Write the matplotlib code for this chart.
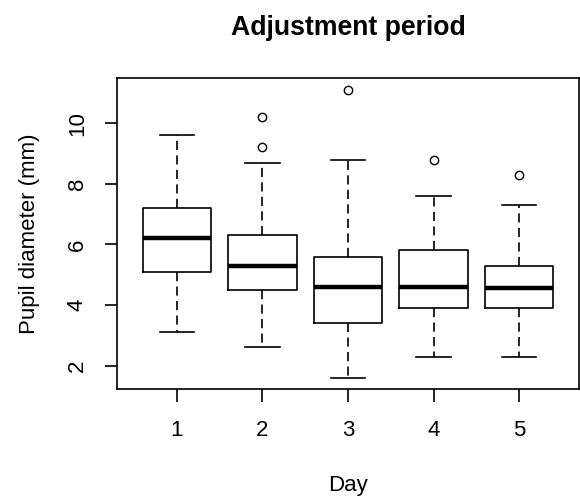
import matplotlib
matplotlib.use("Agg")
import matplotlib.pyplot as plt

# Pupil diameter summary per day (five-number summaries plus outliers)
days = [1, 2, 3, 4, 5]
day_labels = ["1", "2", "3", "4", "5"]
lower_whisker = [3.1, 2.6, 1.6, 2.3, 2.3]
q1 = [5.1, 4.5, 3.4, 3.9, 3.9]
medians = [6.2, 5.3, 4.6, 4.6, 4.55]
q3 = [7.2, 6.3, 5.6, 5.8, 5.3]
upper_whisker = [9.6, 8.7, 8.8, 7.6, 7.3]
outliers = [[], [9.2, 10.2], [11.1], [8.8], [8.3]]
y_ticks = [2, 4, 6, 8, 10]

plt.rcParams["font.family"] = ["Liberation Sans", "DejaVu Sans"]

fig = plt.figure(figsize=(5.8, 5.0), dpi=100)
ax = fig.add_axes([117 / 580, 1 - 389.3 / 500, (579 - 117) / 580, (389.3 - 78.3) / 500])

stats = []
for i in range(len(days)):
    stats.append({
        "med": medians[i],
        "q1": q1[i],
        "q3": q3[i],
        "whislo": lower_whisker[i],
        "whishi": upper_whisker[i],
        "fliers": outliers[i],
        "label": day_labels[i],
    })

lw = 1.2
ax.bxp(
    stats,
    positions=days,
    widths=0.8,
    capwidths=0.4,
    showfliers=True,
    boxprops=dict(color="black", linewidth=lw),
    medianprops=dict(color="black", linewidth=3.2, solid_capstyle="butt"),
    whiskerprops=dict(color="black", linewidth=lw, linestyle=(0, (5.5, 3.2))),
    capprops=dict(color="black", linewidth=lw),
    flierprops=dict(marker="o", markersize=6, markerfacecolor="none",
                    markeredgecolor="black", markeredgewidth=1.0, linestyle="none"),
)

ax.set_xlim(0.3, 5.7)
ax.set_ylim(1.22, 11.48)
ax.set_xticks(days)
ax.set_xticklabels(day_labels)
ax.set_yticks(y_ticks)
ax.set_yticklabels([str(t) for t in y_ticks])
for lab in ax.get_yticklabels():
    lab.set_rotation(90)
    lab.set_va("center")

ax.tick_params(axis="both", direction="out", length=9, width=lw,
               labelsize=16, colors="black")
ax.tick_params(axis="x", pad=13)
ax.tick_params(axis="y", pad=12)

for sp in ax.spines.values():
    sp.set_linewidth(lw)
    sp.set_color("black")

ax.set_xlabel("Day", fontsize=16)
ax.xaxis.set_label_coords(0.5, -0.2756)
ax.set_ylabel("Pupil diameter (mm)", fontsize=16)
ax.yaxis.set_label_coords(-0.1667, 0.5)

ax.set_title("Adjustment period", fontsize=19.2, fontweight="bold", pad=31)

fig.savefig("out.png", dpi=100)
